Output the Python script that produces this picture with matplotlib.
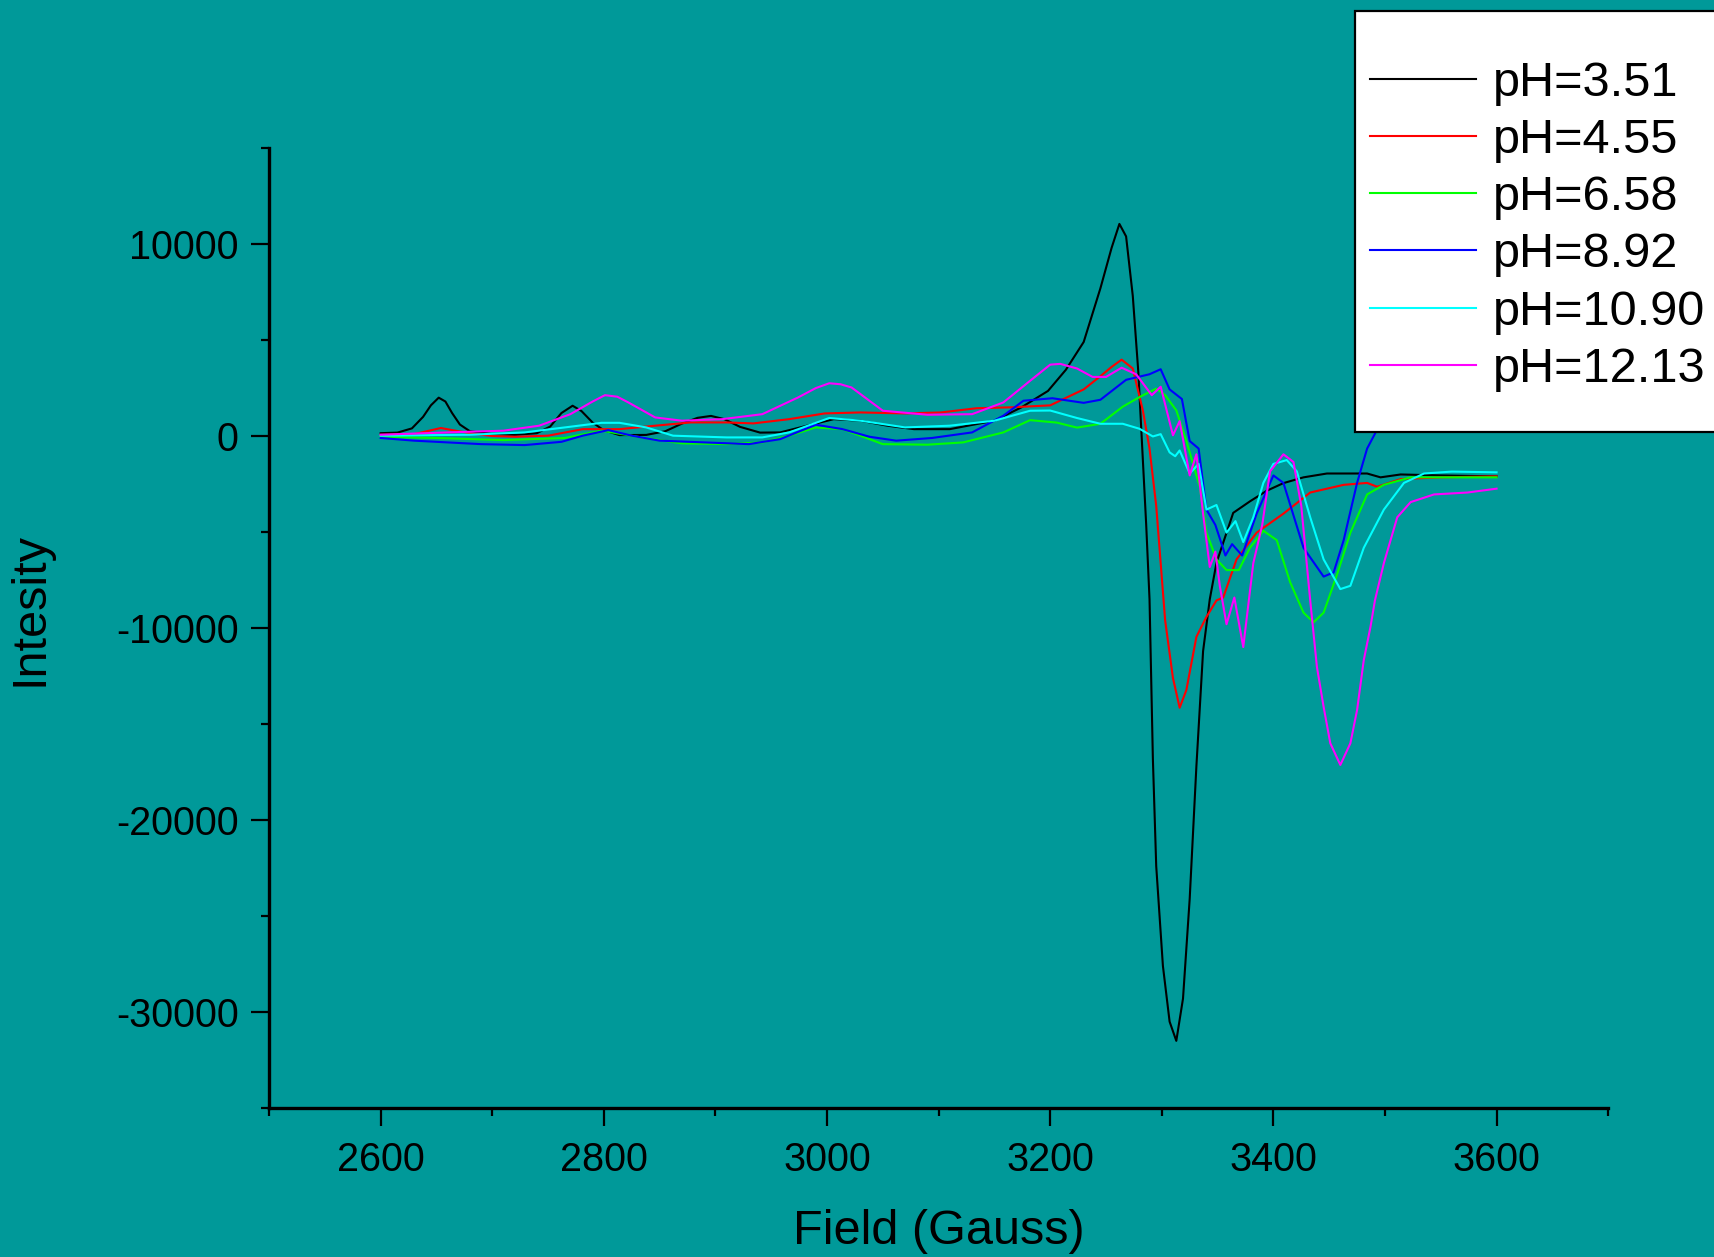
import numpy as np
import matplotlib
matplotlib.use("Agg")
import matplotlib.pyplot as plt
from matplotlib.ticker import MultipleLocator
from matplotlib.patches import Rectangle

plt.rcParams['font.family'] = ['Liberation Sans', 'DejaVu Sans']
plt.rcParams['axes.unicode_minus'] = False

# EPR spectra (field in Gauss, intensity)
labels = ["pH=3.51", "pH=4.55", "pH=6.58", "pH=8.92", "pH=10.90", "pH=12.13"]
colors = ["#000000", "#ff0000", "#00ff00", "#0000ff", "#00ffff", "#ff00ff"]

x_351 = [2600, 2615, 2628, 2638, 2645, 2652, 2658, 2664, 2671, 2680, 2700, 2720, 2740, 2752,
         2762, 2772, 2780, 2790, 2800, 2814, 2838, 2855, 2870, 2884, 2896, 2908, 2922, 2940,
         2958, 2982, 3006, 3030, 3054, 3078, 3110, 3150, 3174, 3198, 3214, 3230, 3245, 3255,
         3262, 3268, 3274, 3279, 3286, 3289, 3292, 3295, 3301, 3307, 3313, 3319, 3325, 3331,
         3337, 3343, 3349, 3364, 3379, 3394, 3409, 3427, 3448, 3484, 3496, 3514, 3550, 3600]
y_351 = [150, 180, 400, 1000, 1600, 2000, 1800, 1200, 600, 250, 100, 60, 150, 500,
         1200, 1580, 1300, 700, 300, 50, 60, 250, 650, 950, 1050, 880, 480, 180,
         190, 540, 880, 800, 540, 360, 360, 800, 1490, 2350, 3450, 4900, 7700, 9800,
         11050, 10400, 7300, 3300, -4600, -8500, -16800, -22400, -27600, -30500, -31500, -29300, -24100, -17200,
         -11200, -8500, -6600, -4000, -3400, -2850, -2450, -2150, -1950, -1950, -2150, -2000, -2050, -2100]

x_455 = [2600, 2630, 2645, 2654, 2665, 2681, 2700, 2721, 2750, 2781, 2814, 2846, 2878, 2910,
         2934, 2966, 2998, 3030, 3070, 3102, 3134, 3166, 3200, 3230, 3245, 3255, 3264, 3274,
         3283, 3289, 3295, 3303, 3310, 3316, 3322, 3331, 3340, 3349, 3355, 3367, 3385, 3409,
         3433, 3463, 3484, 3493, 3514, 3550, 3600]
y_455 = [70, 100, 300, 420, 300, 140, 0, -35, 20, 360, 360, 540, 710, 710,
         660, 880, 1180, 1230, 1180, 1230, 1450, 1500, 1600, 2430, 3120, 3600, 3980, 3520,
         1340, -650, -3640, -9600, -12600, -14150, -13230, -10460, -9420, -8560, -8410, -6420, -5030, -4040,
         -2940, -2540, -2440, -2640, -2240, -2150, -2100]

x_658 = [2600, 2650, 2710, 2765, 2798, 2830, 2870, 2910, 2942, 2966, 2990, 3014, 3050, 3090,
         3122, 3158, 3182, 3206, 3224, 3245, 3265, 3280, 3295, 3303, 3313, 3322, 3334, 3340,
         3349, 3358, 3369, 3379, 3391, 3403, 3415, 3427, 3436, 3445, 3457, 3469, 3484, 3499,
         3523, 3560, 3600]
y_658 = [-35, -100, -210, -100, 280, -35, -380, -420, -330, 20, 450, 360, -420, -450,
         -330, 190, 830, 700, 440, 640, 1530, 2030, 2470, 2130, 1340, -260, -2640, -5030,
         -6420, -6980, -6980, -5820, -4930, -5420, -7610, -9200, -9700, -9200, -7220, -5030, -3040, -2540,
         -2150, -2150, -2150]

x_892 = [2600, 2630, 2690, 2729, 2762, 2781, 2804, 2825, 2850, 2890, 2930, 2958, 2990, 3014,
         3038, 3062, 3094, 3130, 3158, 3176, 3202, 3230, 3245, 3268, 3289, 3299, 3307, 3318,
         3325, 3333, 3340, 3348, 3357, 3363, 3372, 3385, 3400, 3409, 3427, 3445, 3454, 3463,
         3475, 3484, 3493, 3510, 3530, 3600]
y_892 = [-100, -240, -420, -470, -300, 20, 310, 20, -240, -330, -420, -160, 590, 360,
         -35, -240, -100, 190, 1060, 1840, 1970, 1730, 1890, 2930, 3220, 3480, 2430, 1930,
         -260, -650, -3830, -4630, -6220, -5630, -6220, -4040, -2050, -2440, -5820, -7320, -7100, -5420,
         -2440, -650, 340, 4000, 7000, 8000]

x_1090 = [2600, 2680, 2729, 2765, 2798, 2814, 2838, 2862, 2910, 2942, 2966, 3002, 3030, 3070,
          3110, 3150, 3182, 3200, 3224, 3245, 3265, 3280, 3292, 3299, 3307, 3312, 3316, 3325,
          3333, 3340, 3349, 3358, 3366, 3373, 3382, 3391, 3400, 3412, 3421, 3433, 3445, 3460,
          3469, 3481, 3499, 3517, 3535, 3560, 3600]
y_1090 = [20, 70, 190, 450, 690, 690, 450, 20, -70, -70, 190, 940, 800, 450,
          540, 800, 1320, 1330, 940, 640, 640, 380, -20, 100, -850, -1050, -750, -1950,
          -1450, -3830, -3590, -5030, -4430, -5520, -4230, -2440, -1450, -1250, -1840, -4230, -6420, -7970,
          -7800, -5820, -3830, -2440, -1950, -1850, -1890]

x_1213 = [2600, 2660, 2710, 2742, 2770, 2790, 2801, 2812, 2822, 2846, 2870, 2906, 2942, 2974,
          2990, 3002, 3012, 3022, 3050, 3090, 3130, 3158, 3182, 3200, 3209, 3224, 3238, 3250,
          3264, 3277, 3291, 3299, 3310, 3316, 3325, 3331, 3337, 3343, 3348, 3352, 3358, 3365,
          3373, 3382, 3390, 3397, 3409, 3418, 3425, 3433, 3439, 3445, 3451, 3460, 3469, 3475,
          3481, 3487, 3491, 3499, 3511, 3523, 3544, 3574, 3600]
y_1213 = [70, 190, 280, 540, 1140, 1800, 2130, 2050, 1750, 970, 800, 880, 1140, 2010,
          2500, 2750, 2700, 2530, 1320, 1110, 1140, 1750, 2880, 3720, 3760, 3520, 3080, 3080,
          3560, 3220, 2130, 2570, 40, 780, -2050, -950, -4040, -6820, -6020, -7810, -9800, -8410,
          -10990, -6620, -4630, -1840, -950, -1350, -3640, -8560, -12020, -14100, -16000, -17130, -16000, -14270,
          -11670, -9940, -8560, -6620, -4230, -3440, -3040, -2940, -2740]

xs = [x_351, x_455, x_658, x_892, x_1090, x_1213]
ys = [y_351, y_455, y_658, y_892, y_1090, y_1213]

bg = "#009999"
fig = plt.figure(figsize=(17.15, 12.57), dpi=100, facecolor=bg)
ax = fig.add_axes([0.1569, 0.1185, 0.7808, 0.7637], facecolor=bg)

for x, y, c, lab in zip(xs, ys, colors, labels):
    ax.plot(x, y, color=c, lw=1.5, label=lab)

ax.set_xlim(2500, 3700)
ax.set_ylim(-35000, 15000)
ax.xaxis.set_major_locator(MultipleLocator(200))
ax.xaxis.set_minor_locator(MultipleLocator(100))
ax.yaxis.set_major_locator(MultipleLocator(10000))
ax.yaxis.set_minor_locator(MultipleLocator(5000))
ax.set_xticks([2600, 2800, 3000, 3200, 3400, 3600])

for s in ['top', 'right']:
    ax.spines[s].set_visible(False)
for s in ['left', 'bottom']:
    ax.spines[s].set_linewidth(2.4)
    ax.spines[s].set_color('black')

ax.tick_params(which='major', direction='out', length=13, width=1.6, labelsize=28.5, colors='black')
ax.tick_params(which='minor', direction='out', length=6, width=1.6)
ax.tick_params(axis='x', which='major', pad=10.5)
ax.tick_params(axis='y', which='major', pad=9)

ax.set_xlabel("Field (Gauss)", fontsize=35)
ax.set_ylabel("Intesity", fontsize=35)
ax.xaxis.set_label_coords(0.5, -0.105)
ax.yaxis.set_label_coords(-0.162, 0.52)

# white legend box, partly off the right edge like the original
box = Rectangle((1355 / 1715, 1 - 432 / 1257), 0.3, 421 / 1257, transform=fig.transFigure,
                facecolor='white', edgecolor='black', lw=1.6, zorder=5)
fig.add_artist(box)

leg = fig.legend(loc='upper left', bbox_to_anchor=(1370 / 1715, 1 - 61 / 1257),
                 fontsize=35, frameon=False, handlelength=2.18,
                 handletextpad=0.34, labelspacing=0.25, borderpad=0, borderaxespad=0)
leg.set_zorder(10)

fig.savefig("out.png", dpi=100, facecolor=bg)
